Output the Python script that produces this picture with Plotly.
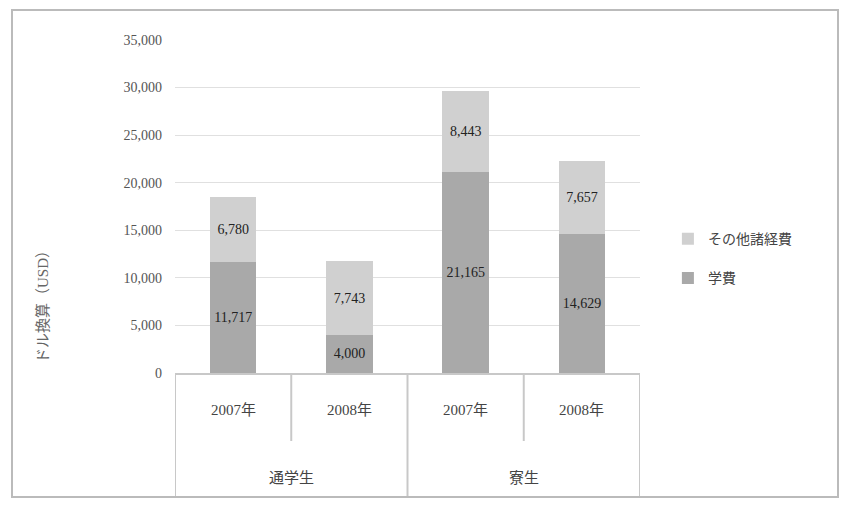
import plotly.graph_objects as go

groups = ["通学生", "寮生"]
years = ["2007年", "2008年", "2007年", "2008年"]
categories = ["通学生 2007年", "通学生 2008年", "寮生 2007年", "寮生 2008年"]
tuition = [11717, 4000, 21165, 14629]
other = [6780, 7743, 8443, 7657]
y_ticks = [0, 5000, 10000, 15000, 20000, 25000, 30000, 35000]

font_fam = "Liberation Serif, Noto Sans CJK JP, serif"
H = 333.0  # plot height in px
W = 465.0  # plot width in px

fig = go.Figure()
fig.add_trace(go.Bar(
    x=categories, y=tuition, name="学費", legendgroup="a", legendrank=2,
    marker=dict(color="#a9a9a9", line=dict(width=0)),
    texttemplate="%{y:,}", textposition="inside", insidetextanchor="middle",
    textfont=dict(color="#222222", size=14, family=font_fam),
))
fig.add_trace(go.Bar(
    x=categories, y=other, name="その他諸経費", legendgroup="b", legendrank=1,
    marker=dict(color="#d0d0d0", line=dict(width=0)),
    texttemplate="%{y:,}", textposition="inside", insidetextanchor="middle",
    textfont=dict(color="#222222", size=14, family=font_fam),
))

fig.update_layout(
    barmode="stack",
    bargap=0.6,
    width=842, height=522,
    margin=dict(l=175, r=202, t=40, b=149),
    paper_bgcolor="white", plot_bgcolor="white",
    font=dict(family=font_fam, size=14, color="#555555"),
    legend=dict(x=1.06, y=0.45, xanchor="left", yanchor="top",
                traceorder="grouped", tracegroupgap=18,
                font=dict(size=14, color="#444444"), itemwidth=30),
    showlegend=True,
)
fig.update_yaxes(
    range=[0, 35000], tickvals=y_ticks, tickformat=",",
    showgrid=True, gridcolor="#e0e0e0", zeroline=False,
    ticks="", ticklabelstandoff=12,
)
fig.update_xaxes(
    showticklabels=False, ticks="",
    showline=True, linecolor="#c8c8c8", linewidth=2,
    range=[-0.5, 3.5],
)

# category table labels
for i, yr in enumerate(years):
    fig.add_annotation(x=categories[i], xref="x", y=-37 / H, yref="paper",
                       text=yr, showarrow=False, yanchor="middle",
                       font=dict(size=15, color="#444444"))
for gi, g in enumerate(groups):
    fig.add_annotation(x=gi * 2 + 0.5, xref="x", y=-105 / H, yref="paper",
                       text=g, showarrow=False, yanchor="middle",
                       font=dict(size=15, color="#444444"))

# dividers
for xpos, depth in [(-0.5, 124), (0.5, 68), (1.5, 124), (2.5, 68), (3.5, 124)]:
    fig.add_shape(type="line", xref="x", yref="paper", x0=xpos, x1=xpos,
                  y0=0, y1=-depth / H, line=dict(color="#c8c8c8", width=2))

# y-axis title
fig.add_annotation(x=-133 / W, xref="paper", y=70 / H, yref="paper",
                   text="ドル換算（USD）", textangle=-90, showarrow=False,
                   xanchor="center", yanchor="middle",
                   font=dict(size=15, color="#666666"))

# outer frame
fig.add_shape(type="rect", xref="paper", yref="paper",
              x0=-163 / W, x1=663 / W, y0=-124 / H, y1=1 + 30 / H,
              line=dict(color="#bbbbbb", width=2))

fig.write_html("out.html")
